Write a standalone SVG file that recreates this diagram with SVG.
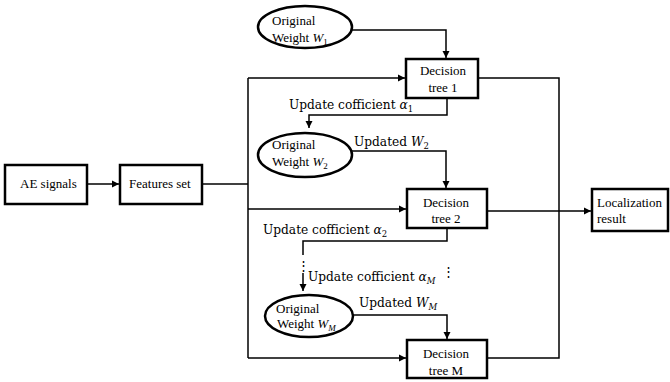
<svg xmlns="http://www.w3.org/2000/svg" width="670" height="382" viewBox="0 0 670 382">
<style>
.box{fill:#fff;stroke:#000;stroke-width:2.5}
.ell{fill:#fff;stroke:#000;stroke-width:2.5}
.ln{fill:none;stroke:#000;stroke-width:1.5}
text{font-family:"Liberation Serif","Times New Roman",serif;font-size:13px;fill:#000}
.m{font-style:italic}
.lab{font-family:"DejaVu Serif","Liberation Serif",serif;font-size:12.2px}
.c{text-anchor:middle}
</style>
<defs>
<marker id="ah" markerWidth="8" markerHeight="8" refX="7" refY="4" orient="auto" markerUnits="userSpaceOnUse">
<path d="M0,0.5 L7,4 L0,7.5 Z" fill="#000"/>
</marker>
</defs>
<g id="connectors">
<line class="ln" x1="87" y1="184" x2="119" y2="184" marker-end="url(#ah)"/>
<polyline class="ln" points="202,184 248,184"/>
<line class="ln" x1="248" y1="78" x2="248" y2="358"/>
<line class="ln" x1="248" y1="78" x2="405" y2="78" marker-end="url(#ah)"/>
<line class="ln" x1="248" y1="209" x2="406" y2="209" marker-end="url(#ah)"/>
<line class="ln" x1="248" y1="358" x2="406" y2="358" marker-end="url(#ah)"/>
<polyline class="ln" points="352,30 446,30 446,58" marker-end="url(#ah)"/>
<polyline class="ln" points="447,98 447,115 309,115 309,128" marker-end="url(#ah)"/>
<polyline class="ln" points="351,151 446,151 446,188" marker-end="url(#ah)"/>
<polyline class="ln" points="447,228 447,241 303,241 303,255"/>
<line class="ln" x1="303" y1="273" x2="303" y2="291" marker-end="url(#ah)"/>
<polyline class="ln" points="353,315 447,315 447,339" marker-end="url(#ah)"/>
<polyline class="ln" points="478,78 559,78 559,358 487,358"/>
<line class="ln" x1="487" y1="211" x2="591" y2="211" marker-end="url(#ah)"/>
</g>
<g id="ae-signals">
<rect class="box" x="5" y="165" width="82" height="39"/>
<text x="20" y="188">AE signals</text>
</g>
<g id="features-set">
<rect class="box" x="120" y="165" width="82" height="39"/>
<text x="129" y="188">Features set</text>
</g>
<g id="weight-1">
<ellipse class="ell" cx="305" cy="27" rx="47" ry="21"/>
<text x="272" y="25">Original</text>
<text x="272" y="42">Weight <tspan class="m">W</tspan><tspan font-size="9" dy="3">1</tspan></text>
</g>
<g id="tree-1">
<rect class="box" x="406" y="59" width="72" height="39"/>
<text class="c" x="443" y="75">Decision</text>
<text class="c" x="443" y="92">tree 1</text>
</g>
<g id="weight-2">
<ellipse class="ell" cx="305" cy="155" rx="47" ry="22"/>
<text x="272" y="149">Original</text>
<text x="272" y="166">Weight <tspan class="m">W</tspan><tspan font-size="9" dy="3">2</tspan></text>
</g>
<g id="tree-2">
<rect class="box" x="407" y="189" width="80" height="39"/>
<text class="c" x="446" y="207">Decision</text>
<text class="c" x="446" y="223">tree 2</text>
</g>
<g id="weight-m">
<ellipse class="ell" cx="309" cy="316" rx="44" ry="21"/>
<text x="276" y="313">Original</text>
<text x="277" y="328">Weight <tspan class="m">W</tspan><tspan font-size="9" font-style="italic" dy="3">M</tspan></text>
</g>
<g id="tree-m">
<rect class="box" x="407" y="340" width="80" height="38"/>
<text class="c" x="446" y="358">Decision</text>
<text class="c" x="446" y="375">tree M</text>
</g>
<g id="localization">
<rect class="box" x="592" y="189" width="76" height="42"/>
<text x="597" y="207">Localization</text>
<text x="597" y="223">result</text>
</g>
<g id="labels">
<text class="lab" x="289" y="109">Update cofficient <tspan class="m">α</tspan><tspan font-size="8.5" dy="3">1</tspan></text>
<text class="lab" x="354" y="146">Updated <tspan class="m">W</tspan><tspan font-size="8.5" dy="3">2</tspan></text>
<text class="lab" x="263" y="234">Update cofficient <tspan class="m">α</tspan><tspan font-size="8.5" dy="3">2</tspan></text>
<text class="lab" x="308" y="281">Update cofficient <tspan class="m">α</tspan><tspan font-size="8.5" font-style="italic" dy="3">M</tspan></text>
<text class="lab" x="359" y="307">Updated <tspan class="m">W</tspan><tspan font-size="8.5" font-style="italic" dy="3">M</tspan></text>
<text x="303" y="270" class="c">⋮</text>
<text x="448" y="276" class="c">⋮</text>
</g>
</svg>
